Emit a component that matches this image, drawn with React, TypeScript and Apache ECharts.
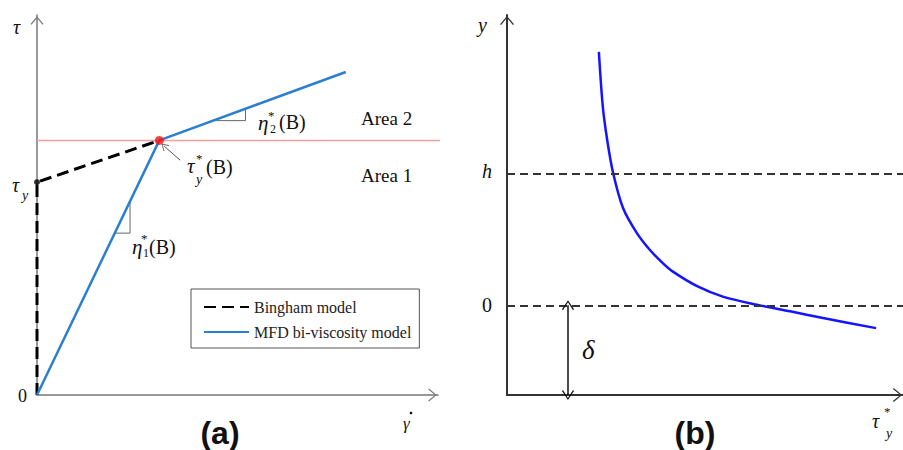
import React, { useEffect, useRef } from "react";
import * as echarts from "echarts";

// ---- Panel (a): shear stress vs shear rate ----
const binghamPoints: [number, number][] = [[0, 0], [0, 5.6], [3.05, 6.7]];
const mfdPoints: [number, number][] = [[0, 0], [3.05, 6.7], [7.7, 8.5]];
const boundaryLine: [number, number][] = [[0, 6.7], [10.12, 6.7]];
const slopeTriangle2: [number, number][] = [[4.4, 7.22], [5.2, 7.22], [5.2, 7.53]];
const slopeTriangle1: [number, number][] = [[1.94, 4.26], [2.32, 4.26], [2.32, 5.1]];
const yieldPoint: [number, number] = [3.05, 6.7];
const tauYPoint: [number, number] = [0, 5.6];
const pointerFrom: [number, number] = [3.57, 6.18];
const pointerTo: [number, number] = [3.17, 6.55];
const legendNames = ["Bingham model", "MFD bi-viscosity model"];

// ---- Panel (b): y vs tau_y* ----
const curveX = [2.32, 2.42, 2.53, 2.68, 2.93, 3.28, 3.61, 3.94, 4.19, 4.8, 5.45, 6.31, 7.15, 7.98, 9.32];
const curveY = [1.92, 1.503, 1.253, 1.002, 0.737, 0.547, 0.419, 0.318, 0.255, 0.145, 0.066, 0.004, -0.046, -0.097, -0.173];
const hLevel = 1;
const zeroLevel = 0;
const deltaX = 1.54;
const yMinB = -0.68;
const yMaxB = 2.2;

const chevron = "path://M0,0 L10,12 L8.4,13.2 L0,2.6 L-8.4,13.2 L-10,12 Z";

const SERIF = "Liberation Serif";
const SANS = "Liberation Sans";

function T(text: string, x: number, y: number, size: number, italic = false, extra: any = {}) {
  return {
    type: "text",
    x,
    y,
    z: 100,
    style: {
      text,
      fontSize: size,
      fontFamily: SERIF,
      fontStyle: italic ? "italic" : "normal",
      fill: "#111",
      textAlign: "left",
      textVerticalAlign: "middle",
      ...extra,
    },
  };
}

export default function App() {
  const ref = useRef<HTMLDivElement>(null);
  useEffect(() => {
    if (!ref.current) return;
    const chart = echarts.init(ref.current, null, { renderer: "svg" });
    const axisCommon = {
      type: "value",
      axisTick: { show: false },
      axisLabel: { show: false },
      splitLine: { show: false },
    };
    const leftAxisLine = {
      show: true,
      onZero: false,
      lineStyle: { color: "#777", width: 1.5 },
      symbol: ["none", chevron],
      symbolSize: [13, 11],
      symbolOffset: [0, -5.5],
    };
    const rightAxisLine = {
      show: true,
      onZero: false,
      lineStyle: { color: "#333", width: 2 },
      symbol: ["none", chevron],
      symbolSize: [14, 11],
      symbolOffset: [0, -5.5],
    };
    const option: any = {
      animation: false,
      backgroundColor: "#fff",
      grid: [
        { left: 37, right: 465, top: 15, bottom: 55 },
        { left: 507, right: 0, top: 15, bottom: 55 },
      ],
      xAxis: [
        { ...axisCommon, gridIndex: 0, min: 0, max: 10, axisLine: leftAxisLine },
        { ...axisCommon, gridIndex: 1, min: 0, max: 10, axisLine: rightAxisLine },
      ],
      yAxis: [
        { ...axisCommon, gridIndex: 0, min: 0, max: 10, axisLine: leftAxisLine },
        { ...axisCommon, gridIndex: 1, min: yMinB, max: yMaxB, axisLine: rightAxisLine },
      ],
      legend: {
        data: legendNames,
        orient: "vertical",
        left: 191,
        top: 289,
        width: 236,
        padding: [10, 8, 8, 12],
        itemWidth: 45,
        itemHeight: 14,
        itemGap: 9,
        borderColor: "#555",
        borderWidth: 1,
        itemStyle: { opacity: 0 },
        textStyle: { fontFamily: SERIF, fontSize: 16, color: "#222" },
        selectedMode: false,
      },
      series: [
        {
          type: "line",
          name: "MFD bi-viscosity model",
          xAxisIndex: 0,
          yAxisIndex: 0,
          data: mfdPoints,
          symbol: "none",
          lineStyle: { color: "#2a7fd0", width: 2.5 },
          itemStyle: { color: "#2a7fd0" },
          z: 4,
        },
        {
          type: "line",
          name: "Bingham model",
          xAxisIndex: 0,
          yAxisIndex: 0,
          data: binghamPoints,
          symbol: "none",
          lineStyle: { color: "#000", width: 3, type: [12, 6] },
          itemStyle: { color: "#000" },
          z: 3,
        },
        {
          type: "line",
          xAxisIndex: 0,
          yAxisIndex: 0,
          data: boundaryLine,
          symbol: "none",
          clip: false,
          lineStyle: { color: "#f4a0a0", width: 1.5 },
          z: 2,
        },
        {
          type: "line",
          xAxisIndex: 0,
          yAxisIndex: 0,
          data: slopeTriangle2,
          symbol: "none",
          lineStyle: { color: "#666", width: 1 },
          z: 2,
        },
        {
          type: "line",
          xAxisIndex: 0,
          yAxisIndex: 0,
          data: slopeTriangle1,
          symbol: "none",
          lineStyle: { color: "#666", width: 1 },
          z: 2,
        },
        {
          type: "scatter",
          xAxisIndex: 0,
          yAxisIndex: 0,
          data: [
            { value: yieldPoint, symbolSize: 9, itemStyle: { color: "#ff1010" } },
            { value: tauYPoint, symbolSize: 6, itemStyle: { color: "#000" } },
          ],
          clip: false,
          z: 6,
        },
        {
          type: "line",
          xAxisIndex: 0,
          yAxisIndex: 0,
          data: [],
          markLine: {
            silent: true,
            symbol: ["none", chevron],
            symbolSize: [8, 7],
            label: { show: false },
            lineStyle: { color: "#555", width: 1, type: "solid" },
            data: [[{ coord: pointerFrom }, { coord: pointerTo }]],
          },
        },
        {
          type: "line",
          xAxisIndex: 1,
          yAxisIndex: 1,
          data: curveX.map((x, i) => [x, curveY[i]]),
          symbol: "none",
          smooth: 0.3,
          lineStyle: { color: "#1414ff", width: 2.5 },
          z: 4,
          markLine: {
            silent: true,
            symbol: "none",
            label: { show: false },
            lineStyle: { color: "#333", width: 2, type: [8, 5] },
            data: [{ yAxis: hLevel }, { yAxis: zeroLevel }],
          },
        },
        {
          type: "line",
          xAxisIndex: 1,
          yAxisIndex: 1,
          data: [],
          markLine: {
            silent: true,
            symbol: [chevron, chevron],
            symbolSize: [12, 10],
            label: { show: false },
            lineStyle: { color: "#111", width: 1.5, type: "solid" },
            data: [[{ coord: [deltaX, zeroLevel] }, { coord: [deltaX, yMinB] }]],
          },
        },
      ],
      graphic: [
        // panel (a) axis labels
        T("τ", 13, 27, 20, true),
        T("τ", 12, 185, 20, true),
        T("y", 22, 195, 14, true),
        T("0", 18, 396, 18),
        T("γ", 403, 423, 17, true),
        { type: "circle", z: 100, shape: { cx: 411, cy: 413, r: 1.3 }, style: { fill: "#111" } },
        T("(a)", 220, 433, 32, false, { fontFamily: SANS, fontWeight: "bold", textAlign: "center" }),
        // eta2*(B)
        T("η", 258, 123, 21, true),
        T("*", 268, 115, 13),
        T("2", 270, 129, 12),
        T("(B)", 279, 122, 20),
        // tau_y*(B)
        T("τ", 187, 166, 21, true),
        T("*", 196, 158, 13),
        T("y", 196, 179, 14, true),
        T("(B)", 206, 167, 20),
        // eta1*(B)
        T("η", 132, 247, 21, true),
        T("*", 141, 238, 13),
        T("1", 143, 253, 12),
        T("(B)", 149, 247, 20),
        T("Area 2", 361, 118, 19),
        T("Area 1", 361, 175, 19),
        // panel (b)
        T("y", 478, 25, 20, true),
        T("h", 482, 171, 20, true),
        T("0", 482, 305, 20),
        T("δ", 582, 350, 27, true),
        T("(b)", 695, 433, 32, false, { fontFamily: SANS, fontWeight: "bold", textAlign: "center" }),
        T("τ", 872, 421, 20, true),
        T("*", 884, 411, 13),
        T("y", 886, 433, 14, true),
      ],
    };
    chart.setOption(option);
    return () => chart.dispose();
  }, []);
  return (
    <div
      ref={ref}
      style={{ position: "fixed", left: 0, top: 0, width: 903, height: 450, background: "#fff" }}
    />
  );
}
